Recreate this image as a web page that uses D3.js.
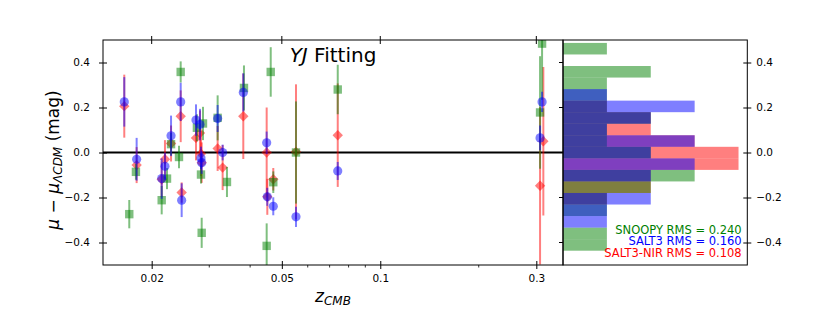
<!DOCTYPE html>
<html>
<head>
<meta charset="utf-8">
<script src="https://cdn.jsdelivr.net/npm/d3@7"></script>
<style>
	body { margin: 0; background: #fff; }
	svg { font-family: "DejaVu Sans", sans-serif; }
</style>
</head>
<body>
<div id="chart"></div>
<script>
// tick values
var z_ticks= [0.02, 0.05, 0.1, 0.3];
var z_minor= [0.03, 0.04, 0.06, 0.07, 0.08, 0.09, 0.2];
var mu_ticks= [-0.4, -0.2, 0.0, 0.2, 0.4];

// SALT3-NIR (red)
var nir_z=   [0.01649, 0.01799, 0.02146, 0.02196, 0.02292, 0.02453, 0.0247, 0.02732, 0.0281, 0.0283, 0.02844, 0.03182, 0.03296, 0.03812, 0.04494, 0.04514, 0.04708, 0.05524, 0.07412, 0.3152, 0.308];
var nir_res= [0.206, -0.056, -0.119, -0.030, 0.040, 0.161, -0.178, 0.065, 0.087, -0.005, -0.045, 0.018, -0.067, 0.161, 0.0, -0.197, -0.119, 0.003, 0.077, 0.05, -0.148];
var nir_err= [0.14, 0.08, 0.08, 0.085, 0.08, 0.115, 0.045, 0.1, 0.1, 0.1, 0.09, 0.1, 0.1, 0.19, 0.2, 0.08, 0.05, 0.3, 0.23, 0.33, 0.35];

// SNOOPY (green)
var snoopy_z=   [0.01708, 0.0179, 0.02146, 0.02228, 0.02424, 0.02292, 0.02453, 0.0275, 0.0287, 0.03182, 0.0383, 0.0283, 0.03398, 0.02844, 0.04494, 0.04624, 0.04708, 0.05524, 0.07412, 0.3124, 0.308];
var snoopy_res= [-0.274, -0.086, -0.212, -0.116, -0.020, 0.037, 0.358, 0.11, 0.129, 0.154, 0.287, -0.098, -0.131, -0.357, -0.415, 0.358, -0.132, 0.0, 0.28, 0.484, 0.178];
var snoopy_err= [0.063, 0.035, 0.063, 0.047, 0.05, 0.05, 0.047, 0.06, 0.074, 0.1, 0.1, 0.04, 0.067, 0.067, 0.1, 0.11, 0.048, 0.227, 0.11, 0.25, 0.25];

// SALT3 (blue)
var salt3_z=   [0.01649, 0.01799, 0.02146, 0.02196, 0.02292, 0.02453, 0.0247, 0.02732, 0.0281, 0.0283, 0.02844, 0.03182, 0.03296, 0.03812, 0.04494, 0.04514, 0.04708, 0.05524, 0.07412, 0.3124, 0.308];
var salt3_res= [0.225, -0.030, -0.116, -0.061, 0.074, 0.225, -0.212, 0.144, 0.124, -0.024, -0.045, 0.151, 0.0, 0.267, 0.043, -0.197, -0.239, -0.286, -0.082, 0.225, 0.065];
var salt3_err= [0.11, 0.095, 0.09, 0.06, 0.09, 0.085, 0.075, 0.07, 0.07, 0.05, 0.05, 0.06, 0.035, 0.085, 0.05, 0.04, 0.04, 0.045, 0.04, 0.045, 0.055];

// histogram counts, bins listed from the top one down
var bin_top= 0.487;
var bin_width= 0.0513;
var hist_nir=    [0, 0, 0, 0, 0, 1, 2, 2, 3, 4, 4, 2, 2, 1, 0, 0, 0, 0];
var hist_snoopy= [1, 0, 2, 1, 1, 1, 2, 1, 1, 2, 0, 3, 2, 1, 1, 0, 1, 1];
var hist_salt3=  [0, 0, 0, 0, 1, 3, 2, 1, 3, 2, 3, 2, 0, 2, 1, 1, 0, 0];

var rms_labels= ["SNOOPY RMS = 0.240", "SALT3 RMS = 0.160", "SALT3-NIR RMS = 0.108"];

// drawn in this order: red, then green, then blue
var series= [
	{z: nir_z, res: nir_res, err: nir_err, hist: hist_nir, color: "#ff0000", marker: "diamond"},
	{z: snoopy_z, res: snoopy_res, err: snoopy_err, hist: hist_snoopy, color: "#008000", marker: "square"},
	{z: salt3_z, res: salt3_res, err: salt3_err, hist: hist_salt3, color: "#0000ff", marker: "circle"}
];
var rms_colors= ["#008000", "#0000ff", "#ff0000"];

var width= 830, height= 332;
var ax_l= 103, ax_r= 563, ax_t= 40, ax_b= 265;
var h_right= 747.3;

var svg= d3.select("#chart")
	.append("svg")
	.attr("width", width)
	.attr("height", height);

var x= d3.scaleLog().domain([0.014196, 0.362]).range([ax_l, ax_r]);
var y= d3.scaleLinear().domain([-0.5, 0.5]).range([ax_b, ax_t]);
var hx= d3.scaleLinear().domain([0, 4.2]).range([ax_r, h_right]);

svg.append("clipPath").attr("id", "clip_main")
	.append("rect")
	.attr("x", ax_l).attr("y", ax_t)
	.attr("width", ax_r- ax_l).attr("height", ax_b- ax_t);

svg.append("clipPath").attr("id", "clip_hist")
	.append("rect")
	.attr("x", ax_r).attr("y", ax_t)
	.attr("width", h_right- ax_r).attr("height", ax_b- ax_t);

// histogram
var hist_g= svg.append("g").attr("clip-path", "url(#clip_hist)");
series.forEach(function(s) {
	s.hist.forEach(function(c, i) {
		if (c== 0) return;
		var hi= bin_top- i*bin_width;
		var lo= hi- bin_width;
		hist_g.append("rect")
			.attr("x", hx(0))
			.attr("y", y(hi))
			.attr("width", hx(c)- hx(0))
			.attr("height", y(lo)- y(hi))
			.attr("fill", s.color)
			.attr("fill-opacity", 0.5);
	});
});

// zero line
svg.append("line")
	.attr("x1", ax_l).attr("x2", ax_r)
	.attr("y1", y(0)).attr("y2", y(0))
	.attr("stroke", "#000")
	.attr("stroke-width", 2);

// residuals with error bars
var main_g= svg.append("g").attr("clip-path", "url(#clip_main)");
series.forEach(function(s) {
	var g= main_g.append("g");
	for (var i= 0; i< s.z.length; i++) {
		var px= x(s.z[i]), py= y(s.res[i]);
		g.append("line")
			.attr("x1", px).attr("x2", px)
			.attr("y1", y(s.res[i]- s.err[i]))
			.attr("y2", y(s.res[i]+ s.err[i]))
			.attr("stroke", s.color)
			.attr("stroke-opacity", 0.5)
			.attr("stroke-width", 2);
		if (s.marker== "circle") {
			g.append("circle")
				.attr("cx", px).attr("cy", py).attr("r", 4.6)
				.attr("fill", s.color).attr("fill-opacity", 0.5);
		} else if (s.marker== "square") {
			g.append("rect")
				.attr("x", px- 4.2).attr("y", py- 4.2)
				.attr("width", 8.4).attr("height", 8.4)
				.attr("fill", s.color).attr("fill-opacity", 0.5);
		} else {
			g.append("path")
				.attr("d", "M" + px + "," + (py- 5.2) + "L" + (px+ 5.2) + "," + py +
					"L" + px + "," + (py+ 5.2) + "L" + (px- 5.2) + "," + py + "Z")
				.attr("fill", s.color).attr("fill-opacity", 0.5);
		}
	}
});

// frames
svg.append("rect")
	.attr("x", ax_l).attr("y", ax_t)
	.attr("width", ax_r- ax_l).attr("height", ax_b- ax_t)
	.attr("fill", "none").attr("stroke", "#000").attr("stroke-width", 1);
svg.append("rect")
	.attr("x", ax_r).attr("y", ax_t)
	.attr("width", h_right- ax_r).attr("height", ax_b- ax_t)
	.attr("fill", "none").attr("stroke", "#000").attr("stroke-width", 1);

// x axis
var x_axis= svg.append("g")
	.attr("transform", "translate(0," + ax_b + ")")
	.call(d3.axisBottom(x).tickValues(z_ticks).tickFormat(d3.format("")).tickSize(4).tickPadding(6));
x_axis.select(".domain").remove();
x_axis.selectAll(".tick line").attr("y1", -4);
x_axis.selectAll("text").attr("font-size", "10.5px").attr("font-family", "DejaVu Sans");

svg.append("g").selectAll("line")
	.data(z_minor).enter().append("line")
	.attr("x1", function(d) { return x(d); })
	.attr("x2", function(d) { return x(d); })
	.attr("y1", ax_b).attr("y2", ax_b+ 2.5)
	.attr("stroke", "#000").attr("stroke-width", 0.8);

svg.append("g").selectAll("line")
	.data(z_ticks).enter().append("line")
	.attr("x1", function(d) { return x(d); })
	.attr("x2", function(d) { return x(d); })
	.attr("y1", ax_t- 4).attr("y2", ax_t+ 4)
	.attr("stroke", "#000").attr("stroke-width", 1);

// y axis, left
var y_axis= svg.append("g")
	.attr("transform", "translate(" + ax_l + ",0)")
	.call(d3.axisLeft(y).tickValues(mu_ticks).tickFormat(d3.format(".1f")).tickSize(4).tickPadding(9));
y_axis.select(".domain").remove();
y_axis.selectAll(".tick line").attr("x1", 4);
y_axis.selectAll("text").attr("font-size", "10.5px").attr("font-family", "DejaVu Sans");

// inner ticks on the shared edge
svg.append("g").selectAll("line")
	.data(mu_ticks).enter().append("line")
	.attr("x1", ax_r- 4).attr("x2", ax_r)
	.attr("y1", function(d) { return y(d); })
	.attr("y2", function(d) { return y(d); })
	.attr("stroke", "#000").attr("stroke-width", 1);

// y axis, histogram right
var h_axis= svg.append("g")
	.attr("transform", "translate(" + h_right + ",0)")
	.call(d3.axisRight(y).tickValues(mu_ticks).tickFormat(d3.format(".1f")).tickSize(4).tickPadding(5));
h_axis.select(".domain").remove();
h_axis.selectAll(".tick line").attr("x1", -4);
h_axis.selectAll("text").attr("font-size", "10.5px").attr("font-family", "DejaVu Sans");

// title inside plot
var title= svg.append("text")
	.attr("x", (ax_l+ ax_r)/2)
	.attr("y", 61.5)
	.attr("text-anchor", "middle")
	.attr("font-size", "20px");
title.append("tspan").attr("font-style", "italic").text("YJ");
title.append("tspan").text(" Fitting");

// x label
var xl= svg.append("text")
	.attr("x", (ax_l+ ax_r)/2)
	.attr("y", 301.5)
	.attr("text-anchor", "middle")
	.attr("font-size", "17px")
	.attr("font-style", "italic");
xl.append("tspan").text("z");
xl.append("tspan").attr("dy", 3.5).attr("font-size", "12px").text("CMB");

// y label
var yl= svg.append("text")
	.attr("transform", "translate(58.5,160) rotate(-90)")
	.attr("text-anchor", "middle")
	.attr("font-size", "17px");
yl.append("tspan").attr("font-style", "italic").text("μ");
yl.append("tspan").text(" − ");
yl.append("tspan").attr("font-style", "italic").text("μ");
yl.append("tspan").attr("font-style", "italic").attr("font-size", "12px").attr("dy", 3.5).text("ΛCDM");
yl.append("tspan").attr("dy", -3.5).text(" (mag)");

// rms labels
rms_labels.forEach(function(t, i) {
	svg.append("text")
		.attr("x", 741.7)
		.attr("y", 234+ i*11.3)
		.attr("text-anchor", "end")
		.attr("font-size", "11.5px")
		.attr("fill", rms_colors[i])
		.text(t);
});
</script>
</body>
</html>
